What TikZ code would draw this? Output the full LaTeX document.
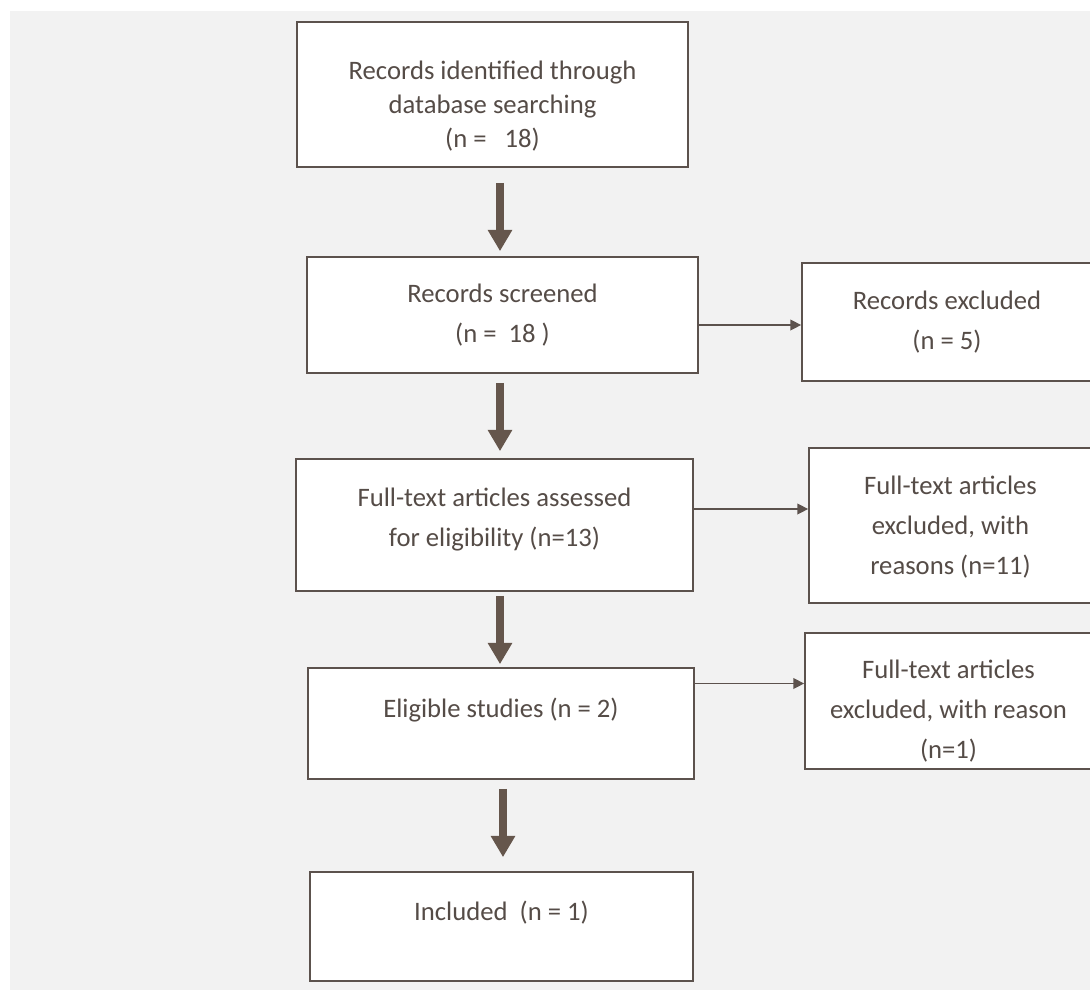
\documentclass[tikz,border=0pt]{standalone}
\usepackage{fontspec}
\setmainfont{Carlito}
\usepackage{xcolor}
\usetikzlibrary{arrows.meta, positioning, calc}

\definecolor{edgebrown}{RGB}{92,82,77}
\definecolor{fatbrown}{RGB}{101,86,76}
\definecolor{textgray}{RGB}{85,76,71}
\definecolor{paper}{RGB}{242,242,242}

\tikzset{
  flowbox/.style={draw=edgebrown, fill=white, line width=1.3pt, align=center,
    text=textgray, font=\fontsize{20}{30}\selectfont, inner sep=0pt},
  fatarrow/.style={-{Triangle[width=17.5pt,length=16pt]}, line width=6pt, draw=fatbrown},
  thinarrow/.style={-{Triangle[width=8pt,length=8pt]}, line width=1pt, draw=edgebrown}
}

\begin{document}
\begin{tikzpicture}[x=0.75pt, y=-0.75pt]
\useasboundingbox (0,0) rectangle (1090,990);
\fill[white] (0,0) rectangle (1090,990);
\fill[paper] (10,11) rectangle (1090,990);

% main column
\node[flowbox, font=\fontsize{20}{25.5}\selectfont, minimum width=391*0.75pt, minimum height=145*0.75pt] (id) at (492.5,94.5)
  {\mbox{}\\[6pt]Records identified through\\database searching\\(n = \ \ 18)};
\node[flowbox, minimum width=391*0.75pt, minimum height=116*0.75pt] (scr) at (502.5,315)
  {Records screened\\(n = \ 18 )};
\node[flowbox, minimum width=397*0.75pt, minimum height=132*0.75pt] (ft) at (494.5,525)
  {Full-text articles assessed\\for eligibility (n=13)\\[-18pt]\mbox{}};
\node[flowbox, minimum width=386*0.75pt, minimum height=111*0.75pt] (elig) at (501,723.5)
  {Eligible studies (n = 2)\\[-6pt]\mbox{}};
\node[flowbox, minimum width=383*0.75pt, minimum height=109*0.75pt] (inc) at (501.5,926.5)
  {Included \ (n = 1)\\[-6pt]\mbox{}};

% exclusions
\node[flowbox, minimum width=290*0.75pt, minimum height=118*0.75pt] (exc) at (947,322)
  {Records excluded\\(n = 5)};
\node[flowbox, minimum width=283*0.75pt, minimum height=155*0.75pt] (ftx) at (950.5,525.5)
  {\mbox{}\\[-13pt]Full-text articles\\excluded, with\\reasons (n=11)};
\node[flowbox, minimum width=287*0.75pt, minimum height=136*0.75pt] (eligx) at (948.5,701)
  {\mbox{}\\[-1.5pt]Full-text articles\\excluded, with reason\\(n=1)};

% flow arrows
\coordinate (axis) at (500,0);
\draw[fatarrow, shorten <=15*0.75pt, shorten >=5*0.75pt] (id.south -| axis) -- (scr.north -| axis);
\draw[fatarrow, shorten <=9*0.75pt, shorten >=7*0.75pt] (scr.south -| axis) -- (ft.north -| axis);
\draw[fatarrow, shorten <=4*0.75pt, shorten >=3*0.75pt] (ft.south -| axis) -- (elig.north -| axis);
\draw[fatarrow, shorten <=9*0.75pt, shorten >=14*0.75pt] ([xshift=1.5pt]elig.south) -- ([xshift=1.5pt]elig.south |- inc.north);

\draw[thinarrow] ([yshift=-7.5pt]scr.east) -- ([yshift=-7.5pt]scr.east -| exc.west);
\draw[thinarrow] ([yshift=12pt]ft.east) -- ([yshift=12pt]ft.east -| ftx.west);
\draw[thinarrow] ([yshift=30pt]elig.east) -- ([yshift=30pt]elig.east -| eligx.west);
\end{tikzpicture}
\end{document}
